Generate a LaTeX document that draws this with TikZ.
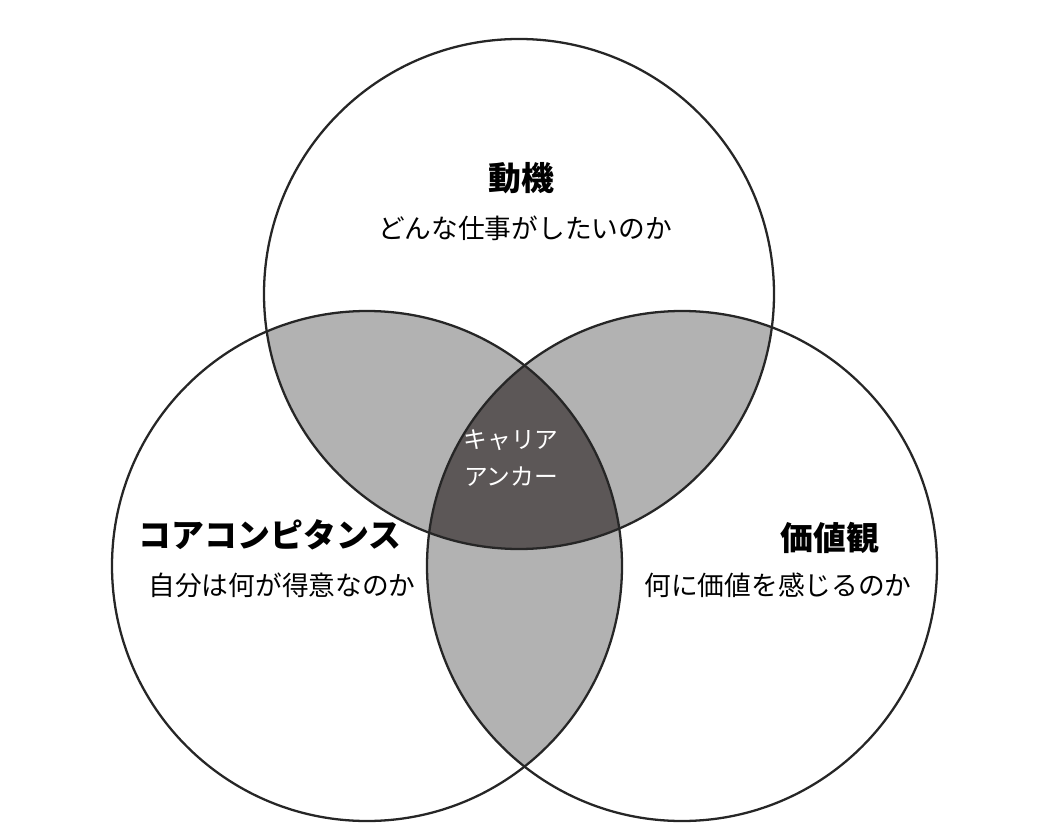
\documentclass[tikz,border=0pt]{standalone}
\usepackage{fontspec}
\newfontfamily\jp{Noto Sans CJK JP}
\definecolor{lensgray}{RGB}{178,178,178}
\definecolor{coregray}{RGB}{92,87,87}
\tikzset{
  ring/.style={draw=black!85,line width=1.3pt},
  title/.style={font=\jp\bfseries\fontsize{18.7}{22}\selectfont},
  sub/.style={font=\jp\fontsize{15.2}{18}\selectfont},
  core/.style={font=\jp\fontsize{13.5}{21}\selectfont,text=white,align=center}
}
\begin{document}
\begin{tikzpicture}[x=0.02cm,y=-0.02cm]
  \useasboundingbox (0,0) rectangle (1058,834);
  \coordinate (top) at (519,294);
  \coordinate (lft) at (367,566);
  \coordinate (rgt) at (682,566);
  % pairwise overlaps
  \begin{scope}
    \clip (top) circle (255);
    \fill[lensgray] (lft) circle (255);
    \fill[lensgray] (rgt) circle (255);
  \end{scope}
  \begin{scope}
    \clip (lft) circle (255);
    \fill[lensgray] (rgt) circle (255);
    \clip (rgt) circle (255);
    \fill[coregray] (top) circle (255);
  \end{scope}
  % rings
  \draw[ring] (top) circle (255);
  \draw[ring] (lft) circle (255);
  \draw[ring] (rgt) circle (255);
  % labels
  \node[title] (motive) at (521,178) {動機};
  \node[sub] (motivesub) at (525,228) {どんな仕事がしたいのか};
  \node[title] (comp) at (270,535) {コアコンピタンス};
  \node[sub] (compsub) at (282,585) {自分は何が得意なのか};
  \node[title] (value) at (830,538) {価値観};
  \node[sub] (valuesub) at (778,585) {何に価値を感じるのか};
  \node[core] (anchor) at (511,458) {キャリア\\アンカー};
\end{tikzpicture}
\end{document}
